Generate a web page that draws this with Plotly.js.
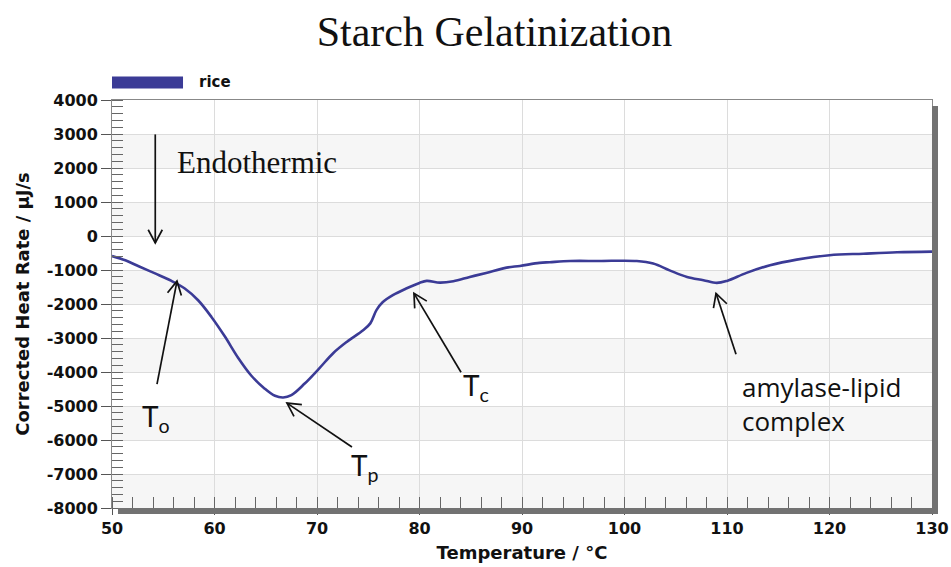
<!DOCTYPE html>
<html>
<head>
<meta charset="utf-8">
<script src="https://cdn.plot.ly/plotly-3.0.1.min.js"></script>
<style>html,body{margin:0;padding:0;background:#fff;}#chart{width:951px;height:567px;}</style>
</head>
<body>
<div id="chart"></div>
<script>
// ---- data ----
const seriesName = "rice";
const temperature = [50.0, 51.3, 52.6, 54.2, 55.8, 57.1, 58.4, 59.7, 61.0, 62.3, 63.6, 64.9, 65.9, 66.7, 67.5, 68.8, 70.2, 71.6, 72.9, 74.5, 75.2, 75.8, 76.4, 77.4, 78.7, 80.0, 80.7, 82.0, 83.3, 84.9, 86.5, 88.5, 89.8, 91.7, 92.7, 94.7, 97.5, 101.2, 102.8, 104.4, 106.1, 107.7, 109.0, 110.0, 111.9, 114.2, 116.8, 120.0, 123.3, 126.6, 130.0];
const heatRate = [-590, -715, -890, -1100, -1320, -1545, -1890, -2380, -2950, -3580, -4110, -4490, -4700, -4750, -4680, -4340, -3900, -3440, -3115, -2770, -2570, -2180, -1950, -1740, -1545, -1380, -1320, -1370, -1330, -1205, -1085, -930, -880, -790, -770, -735, -735, -735, -810, -1010, -1205, -1300, -1380, -1320, -1085, -860, -695, -565, -520, -480, -460];
const yTickValues = [-8000, -7000, -6000, -5000, -4000, -3000, -2000, -1000, 0, 1000, 2000, 3000, 4000];
const yTickLabels = ["-8000", "-7000", "-6000", "-5000", "-4000", "-3000", "-2000", "-1000", "0", "1000", "2000", "3000", "4000"];
const xTickValues = [50, 60, 70, 80, 90, 100, 110, 120, 130];

// annotation labels: [text, x, y]
const labels = [
  ["T<sub>o</sub>", 54.3, -5356],
  ["T<sub>p</sub>", 74.7, -6796],
  ["T<sub>c</sub>", 85.5, -4450]
];
// arrows: [tailX, tailY, headX, headY]
const arrows = [
  [54.22, 2988, 54.22, -206],
  [54.39, -4354, 56.34, -1328],
  [73.41, -6208, 67.07, -4915],
  [84.05, -4008, 79.46, -1687],
  [110.88, -3480, 108.93, -1687]
];

const W = 951, H = 567;
const M = {l: 112, r: 19, t: 100, b: 59};
const xRange = [50, 130], yRange = [-8000, 4000];
const lineColor = "#3b3b96";
const sansFont = "'DejaVu Sans', 'Liberation Sans', sans-serif";
const annFont = {family: "Lato, 'Open Sans', sans-serif", size: 28, color: "#111"};

const shapes = [];
// alternating horizontal bands
for (let i = 0; i < yTickValues.length - 1; i++) {
  if (i % 2 === 0) {
    shapes.push({type: "rect", xref: "paper", yref: "y", x0: 0, x1: 1,
      y0: yTickValues[i], y1: yTickValues[i + 1], fillcolor: "#f6f6f6",
      line: {width: 0}, layer: "below"});
  }
}
// drop shadow of the frame (bottom and right)
shapes.push({type: "rect", xref: "paper", yref: "paper", x0: 0.0073, x1: 1.0073,
  ysizemode: "pixel", yanchor: 0, y0: -6, y1: 0, fillcolor: "#727272", line: {width: 0}});
shapes.push({type: "rect", xref: "paper", yref: "paper", xsizemode: "pixel", xanchor: 1,
  x0: 0, x1: 6, y0: -0.015, y1: 0.985, fillcolor: "#727272", line: {width: 0}});
// legend swatch
shapes.push({type: "rect", xref: "paper", yref: "paper", x0: 0, x1: 0.0866,
  y0: 1.028, y1: 1.0575, fillcolor: lineColor, line: {width: 0}});

// arrows with open chevron heads (head geometry in screen pixels)
const pxX = (W - M.l - M.r) / (xRange[1] - xRange[0]);
const pxY = (H - M.t - M.b) / (yRange[1] - yRange[0]);
const armLen = 15, armAng = 28 * Math.PI / 180;
arrows.forEach(a => {
  const [tx, ty, hx, hy] = a;
  shapes.push({type: "line", xref: "x", yref: "y", x0: tx, y0: ty, x1: hx, y1: hy,
    line: {color: "#111", width: 1.7}});
  const dx = (tx - hx) * pxX, dy = (ty - hy) * pxY;
  const len = Math.hypot(dx, dy), ux = dx / len, uy = dy / len;
  const arm = s => {
    const c = Math.cos(s * armAng), sn = Math.sin(s * armAng);
    const vx = (ux * c - uy * sn) * armLen, vy = (ux * sn + uy * c) * armLen;
    return [hx + vx / pxX, hy + vy / pxY];
  };
  const p1 = arm(1), p2 = arm(-1);
  shapes.push({type: "path", xref: "x", yref: "y",
    path: `M${p1[0]},${p1[1]} L${hx},${hy} L${p2[0]},${p2[1]}`,
    line: {color: "#111", width: 1.7}});
});

const annotations = [];
annotations.push({xref: "paper", yref: "paper", x: 0.1037, y: 1.0453, xanchor: "left", yanchor: "middle",
  text: "<b>" + seriesName + "</b>", showarrow: false, font: {family: sansFont, size: 15, color: "#111"}});
annotations.push({xref: "x", yref: "y", x: 56.15, y: 2165, xanchor: "left", yanchor: "middle",
  text: "Endothermic", showarrow: false, font: {family: "'Liberation Serif', 'Times New Roman', serif", size: 31, color: "#111"}});
labels.forEach(l => annotations.push({xref: "x", yref: "y", x: l[1], y: l[2], xanchor: "center", yanchor: "middle",
  text: l[0], showarrow: false, font: annFont}));
annotations.push({xref: "x", yref: "y", x: 111.27, y: -4945, xanchor: "left", yanchor: "middle", align: "left",
  text: "amylase-lipid<br>complex", showarrow: false, font: {family: "'Open Sans', sans-serif", size: 26, color: "#111"}});

const tickFont = {family: sansFont, size: 16, color: "#111", weight: "bold"};

const layout = {
  width: W, height: H,
  margin: M,
  paper_bgcolor: "#fff", plot_bgcolor: "#fff",
  showlegend: false,
  title: {text: "Starch Gelatinization", xref: "container", yref: "container", x: 0.52, xanchor: "center",
    y: 0.944, yanchor: "middle", font: {family: "'Liberation Serif', 'Times New Roman', serif", size: 42, color: "#111"}},
  xaxis: {
    range: xRange, tickvals: xTickValues, ticks: "outside", ticklen: 6, tickcolor: "#555",
    showline: true, linecolor: "#888", linewidth: 1, mirror: true,
    showgrid: true, gridcolor: "#dcdcdc", zeroline: false, tickfont: tickFont,
    minor: {dtick: 2, ticks: "inside", ticklen: 11, tickcolor: "#666", showgrid: false},
    title: {text: "Temperature / °C", standoff: 9, font: {family: sansFont, size: 18, color: "#111", weight: "bold"}}
  },
  yaxis: {
    range: yRange, tickvals: yTickValues, ticktext: yTickLabels, ticks: "outside", ticklen: 10, tickcolor: "#555",
    showline: true, linecolor: "#888", linewidth: 1, mirror: true,
    showgrid: true, gridcolor: "#dcdcdc", zeroline: false, tickfont: tickFont,
    minor: {dtick: 200, ticks: "inside", ticklen: 11, tickcolor: "#666", showgrid: false},
    title: {text: "Corrected Heat Rate / µJ/s", standoff: 12, font: {family: sansFont, size: 18, color: "#111", weight: "bold"}}
  },
  shapes: shapes,
  annotations: annotations
};

const trace = {
  type: "scatter", mode: "lines", name: seriesName,
  x: temperature, y: heatRate,
  line: {color: lineColor, width: 2.6, shape: "spline", smoothing: 1}
};

Plotly.newPlot("chart", [trace], layout, {staticPlot: true, displayModeBar: false});
</script>
</body>
</html>
